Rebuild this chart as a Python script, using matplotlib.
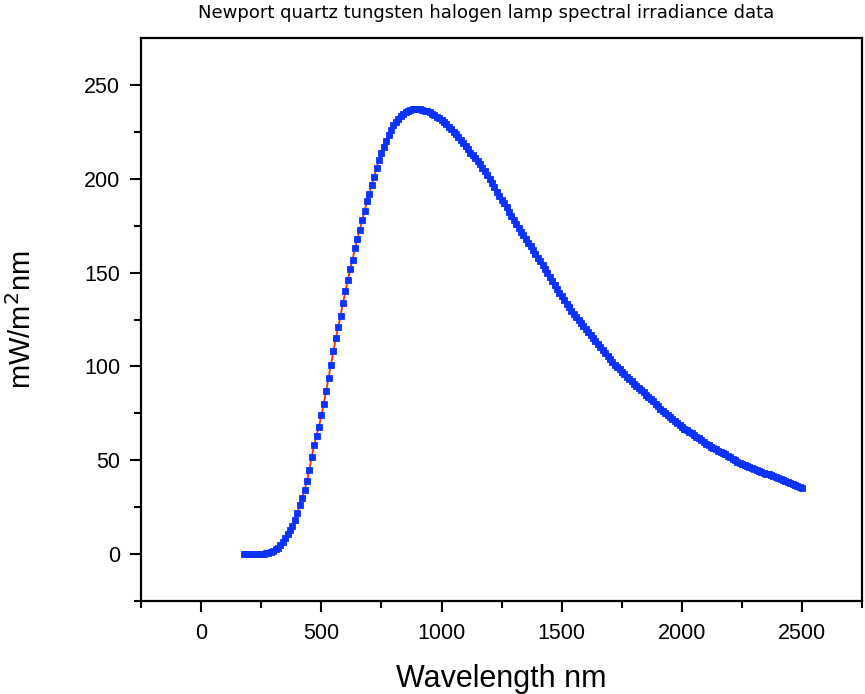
import matplotlib
matplotlib.use("Agg")
import matplotlib.pyplot as plt
import numpy as np

plt.rcParams['font.family'] = ['Liberation Sans', 'DejaVu Sans']

# Wavelength (nm) and irradiance (mW/m^2 nm)
wl_short = [180, 190, 200, 210, 220, 230, 240, 250, 260, 270, 280, 290, 300, 310, 320,
            330, 340, 350, 360, 370, 380, 390, 400, 410, 420, 430, 440, 450, 460, 470,
            480, 490, 500, 510, 520, 530, 540, 550, 560, 570, 580, 590, 600, 610, 620,
            630, 640, 650, 660, 670, 680, 690, 700, 710, 720, 730, 740, 750, 760, 770,
            780, 790, 800, 810, 820, 830, 840, 850, 860, 870, 880, 890]
irr_short = [0, 0, 0, 0, 0, 0, 0, 0.2, 0.3, 0.4, 0.5, 1.0, 1.5, 2.5, 3.5,
             5.0, 6.5, 8.5, 10.5, 13.0, 15.0, 18.0, 22.0, 26.0, 30.0, 34.0, 39.0, 45.0, 52.0, 58.0,
             63.0, 68.0, 74.0, 80.0, 87.0, 94.0, 101.0, 108.0, 115.0, 121.0, 127.0, 134.0, 140.0, 146.0, 152.0,
             157.0, 163.0, 168.0, 173.0, 178.0, 183.0, 188.0, 192.0, 197.0, 201.0, 206.0, 210.0, 214.0, 217.0, 220.0,
             223.5, 226.0, 228.5, 230.5, 232.0, 233.5, 234.5, 235.5, 236.0, 236.5, 237.0, 237.0]

wl_long = list(range(900, 2501, 10))
irr_long = [237.0, 237.0, 236.8, 236.4, 236.0, 235.4, 234.8, 234.0, 233.2, 232.2,
            231.2, 230.1, 229.0, 227.8, 226.5, 225.2, 223.8, 222.3, 220.8, 219.1,
            217.4, 215.7, 214.0, 212.5, 211.0, 209.4, 207.8, 206.0, 204.2, 202.1,
            200.0, 197.8, 195.5, 193.2, 191.0, 189.0, 187.0, 184.8, 182.5, 180.2,
            178.0, 175.9, 173.8, 171.9, 170.0, 168.0, 166.0, 164.0, 162.0, 160.0,
            158.0, 156.0, 154.0, 152.0, 150.0, 147.7, 145.5, 143.3, 141.2, 139.3,
            137.5, 135.5, 133.5, 131.6, 129.8, 128.0, 126.3, 124.6, 123.0, 121.5,
            120.0, 118.4, 116.8, 115.2, 113.6, 112.0, 110.3, 108.6, 107.0, 105.4,
            103.8, 102.4, 101.0, 99.7, 98.4, 97.1, 95.8, 94.5, 93.2, 92.0,
            90.8, 89.6, 88.5, 87.3, 86.2, 85.0, 83.8, 82.6, 81.4, 80.1,
            78.9, 77.6, 76.4, 75.2, 74.0, 72.9, 71.8, 70.7, 69.7, 68.7,
            67.7, 66.8, 66.0, 65.1, 64.3, 63.4, 62.6, 61.7, 60.8, 59.8,
            58.8, 58.0, 57.2, 56.5, 55.8, 55.2, 54.6, 53.8, 53.1, 52.3,
            51.5, 50.7, 50.0, 49.3, 48.7, 48.0, 47.4, 46.8, 46.2, 45.7,
            45.2, 44.7, 44.3, 43.8, 43.4, 42.9, 42.5, 42.0, 41.5, 41.0,
            40.5, 40.0, 39.5, 39.0, 38.5, 37.9, 37.4, 36.8, 36.2, 35.6,
            35.0]

x_ticks = [0, 500, 1000, 1500, 2000, 2500]
y_ticks = [0, 50, 100, 150, 200, 250]

wl = np.array(wl_short + wl_long)
irr = np.array(irr_short + irr_long)

fig = plt.figure(figsize=(8.65, 6.94), dpi=100)
ax = fig.add_axes([0.163, 0.134, 0.834, 0.811])

ax.plot(wl, irr, color='#ff2a00', lw=1.3, zorder=2)
ax.plot(wl, irr, ls='none', marker='s', ms=4.8, mfc='#0a32ff', mec='#0a32ff', mew=0.6, zorder=3)

ax.set_xlim(-250, 2750)
ax.set_ylim(-25, 275)
ax.set_xticks(x_ticks)
ax.set_yticks(y_ticks)
ax.set_xticks(np.arange(-250, 2751, 500), minor=True)
ax.set_yticks(np.arange(-25, 275, 50), minor=True)

for s in ax.spines.values():
    s.set_linewidth(1.6)
ax.tick_params(which='major', direction='out', length=8, width=1.5, labelsize=15.5,
               top=False, right=False)
ax.tick_params(axis='x', which='major', pad=8)
ax.tick_params(axis='y', which='major', pad=7)
ax.tick_params(which='minor', direction='out', length=5, width=1.5, top=False, right=False)

ax.set_xlabel('Wavelength nm', fontsize=22, labelpad=14)
ax.set_ylabel('mW/m$^2$nm', fontsize=21, labelpad=34)
fig.text(0.562, 0.981, 'Newport quartz tungsten halogen lamp spectral irradiance data',
         ha='center', va='center', fontsize=13, family='DejaVu Sans')

fig.savefig('out.png', dpi=100)
